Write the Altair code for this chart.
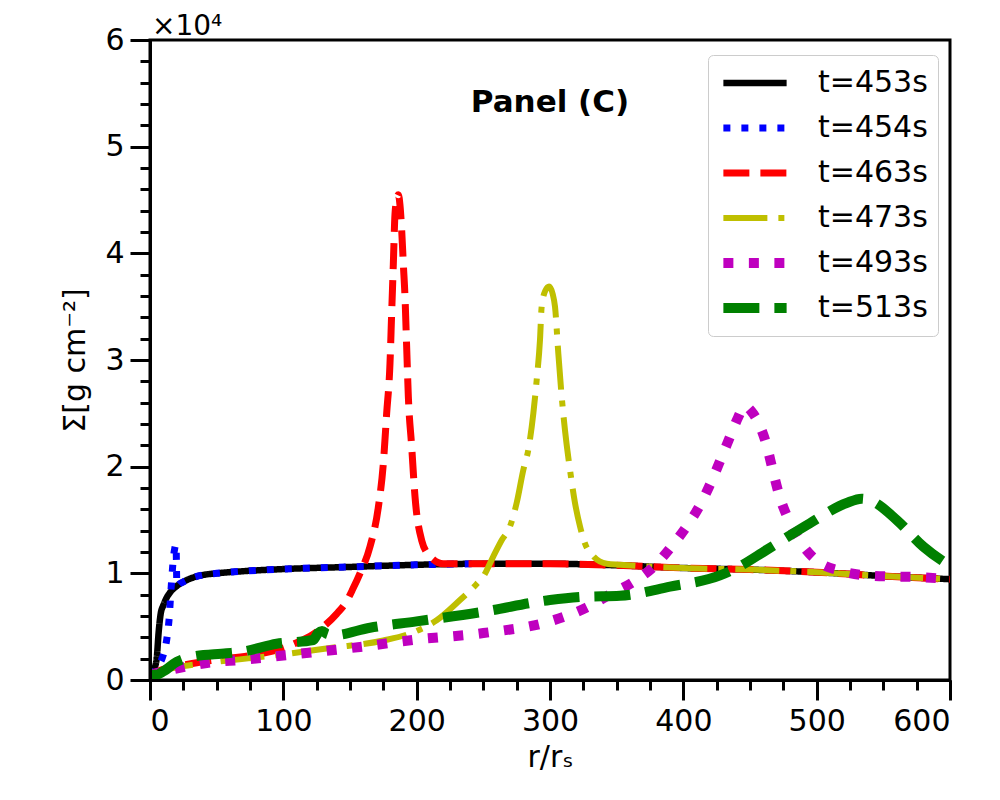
import altair as alt
import pandas as pd

FONT = "DejaVu Sans"

series_names = ["t=453s", "t=454s", "t=463s", "t=473s", "t=493s", "t=513s"]
colors = ["#000000", "#0000ff", "#ff0000", "#bfbf00", "#bf00bf", "#008000"]
dashes = [[1, 0], [7, 11], [26, 11], [44, 11, 6, 11], [10, 15.5], [36, 15]]
widths = [6.5, 7, 7, 6, 10, 10]

# t=453s
r453 = [0, 3, 5, 6.5, 8, 10, 12, 15, 20, 25, 30, 40, 50, 70, 100, 150, 200, 250, 300, 350, 400, 450, 500, 550, 600]
s453 = [0.05, 0.1, 0.2, 0.45, 0.62, 0.70, 0.76, 0.82, 0.88, 0.92, 0.95, 0.985, 1.0, 1.02, 1.04, 1.06, 1.08, 1.09, 1.09, 1.075, 1.05, 1.035, 1.01, 0.975, 0.945]
# t=454s
r454 = [0, 3, 6, 9, 11, 13, 14.5, 15.5, 16.5, 17.5, 18.5, 19.5, 20.2, 22, 25, 30, 40, 50, 70, 100, 150, 200, 250]
s454 = [0.05, 0.08, 0.13, 0.2, 0.28, 0.42, 0.6, 0.8, 0.98, 1.14, 1.23, 1.27, 0.88, 0.9, 0.92, 0.95, 0.985, 1.0, 1.02, 1.04, 1.06, 1.08, 1.09]
# t=463s
r463 = [0, 10, 25, 50, 75, 100, 110, 120, 130, 140, 147.5, 152, 157.5, 165, 171.25, 175, 177.5, 180, 181.25, 182.5, 183.75, 185, 186.25, 187.5, 188.75, 190, 191.25, 192.5, 193.75, 196.25, 198.75, 203.75, 210, 220, 250, 300, 350, 400, 450, 500, 550, 600]
s463 = [0.05, 0.1, 0.14, 0.19, 0.23, 0.3, 0.35, 0.41, 0.5, 0.62, 0.74, 0.85, 1.0, 1.25, 1.62, 2.03, 2.5, 2.97, 3.44, 3.9, 4.37, 4.5, 4.55, 4.45, 4.22, 3.9, 3.59, 3.12, 2.66, 2.19, 1.72, 1.31, 1.16, 1.09, 1.09, 1.09, 1.075, 1.05, 1.035, 1.01, 0.975, 0.945]
# t=473s
r473 = [0, 10, 25, 50, 100, 135, 175, 200, 215, 232.5, 245, 250, 257.5, 263.75, 270, 275, 280, 283.75, 287.5, 290, 292.5, 293.75, 296.5, 299.3, 302, 303.75, 306.25, 308.75, 311.25, 315, 318.75, 322.5, 326.25, 332.5, 342.5, 352.5, 400, 450, 500, 550, 600]
s473 = [0.05, 0.09, 0.13, 0.17, 0.24, 0.3, 0.37, 0.46, 0.56, 0.75, 0.9, 0.97, 1.16, 1.31, 1.44, 1.66, 1.97, 2.16, 2.5, 2.81, 3.19, 3.5, 3.65, 3.69, 3.62, 3.5, 3.06, 2.66, 2.34, 1.97, 1.66, 1.44, 1.28, 1.16, 1.09, 1.08, 1.05, 1.035, 1.01, 0.975, 0.945]
# t=493s
r493 = [0, 10, 25, 42.5, 70, 100, 130, 157.5, 200, 250, 300, 327.5, 346, 362.5, 377.5, 391, 402.5, 412.5, 421, 428.75, 436, 441, 446, 451, 456, 462.5, 467, 472, 479, 488, 501, 519, 537.5, 557, 576, 600]
s493 = [0.05, 0.08, 0.12, 0.16, 0.19, 0.23, 0.27, 0.31, 0.38, 0.44, 0.55, 0.68, 0.81, 0.92, 1.06, 1.25, 1.44, 1.64, 1.86, 2.09, 2.31, 2.46, 2.57, 2.52, 2.42, 2.2, 1.97, 1.73, 1.5, 1.29, 1.11, 1.02, 0.98, 0.97, 0.965, 0.945]
# t=513s
r513 = [0, 5, 10, 20, 32.5, 57.5, 71, 95, 122.5, 126, 129, 133, 137.5, 165, 200, 250, 300, 325, 352.5, 390, 427.5, 440, 462.5, 495, 522.5, 533.75, 542.5, 560, 580, 597.5, 600]
s513 = [0.05, 0.05, 0.08, 0.17, 0.22, 0.25, 0.27, 0.34, 0.375, 0.44, 0.46, 0.43, 0.42, 0.49, 0.55, 0.64, 0.75, 0.78, 0.79, 0.875, 0.98, 1.05, 1.22, 1.47, 1.66, 1.70, 1.67, 1.5, 1.25, 1.09, 1.07]

x_major_ticks = [0, 100, 200, 300, 400, 500, 600]
x_minor_ticks = [i * 25 for i in range(25)]
y_major_ticks = [0, 1, 2, 3, 4, 5, 6]
y_minor_ticks = [round(i * 0.2, 1) for i in range(31)]

all_r = [r453, r454, r463, r473, r493, r513]
all_s = [s453, s454, s463, s473, s493, s513]
rows = []
for name, rr, ss in zip(series_names, all_r, all_s):
    for a, b in zip(rr, ss):
        rows.append({"series": name, "r": a, "S": b})
df = pd.DataFrame(rows)

xscale = alt.Scale(domain=[0, 600], nice=False, zero=False)
yscale = alt.Scale(domain=[0, 6], nice=False, zero=False)

x_axis = alt.Axis(values=x_major_ticks, format="d", tickSize=20, labelPadding=6,
                  title="r/rₛ", titlePadding=6, zindex=1)
y_axis = alt.Axis(values=y_major_ticks, format="d", tickSize=20, labelPadding=6,
                  title="Σ[g cm⁻²]", titlePadding=14, zindex=1)

color = alt.Color("series:N", scale=alt.Scale(domain=series_names, range=colors), legend=alt.Legend(title=None))
dash = alt.StrokeDash("series:N", scale=alt.Scale(domain=series_names, range=dashes), legend=alt.Legend(title=None))
sw = alt.StrokeWidth("series:N", scale=alt.Scale(type="ordinal", domain=series_names, range=widths), legend=alt.Legend(title=None))

layers = []
for name in series_names:
    layers.append(
        alt.Chart(df).transform_filter(alt.datum.series == name).mark_line(
            interpolate="monotone", clip=True, strokeCap="butt", strokeJoin="round"
        ).encode(
            x=alt.X("r:Q", scale=xscale, axis=x_axis),
            y=alt.Y("S:Q", scale=yscale, axis=y_axis),
            color=color, strokeDash=dash, strokeWidth=sw,
        )
    )

panel_df = pd.DataFrame({"r": [300], "S": [5.41], "label": ["Panel (C)"]})
panel = alt.Chart(panel_df).mark_text(font=FONT, fontSize=31, fontWeight="bold", color="black",
                                      align="center", baseline="middle").encode(
    x=alt.X("r:Q", scale=xscale, axis=x_axis), y=alt.Y("S:Q", scale=yscale, axis=y_axis), text="label:N")

main = alt.layer(*layers, panel)

exp_df = pd.DataFrame({"r": [0], "S": [6], "label": ["×10⁴"]})
minor = alt.Chart(exp_df).mark_text(font=FONT, fontSize=28, color="black", align="left",
                                    baseline="alphabetic", dx=2, dy=-5).encode(
    x=alt.X("r:Q", scale=xscale,
            axis=alt.Axis(values=x_minor_ticks, tickSize=10, labels=False, domain=False,
                          title=None, orient="bottom", zindex=1)),
    y=alt.Y("S:Q", scale=yscale,
            axis=alt.Axis(values=y_minor_ticks, tickSize=10, labels=False, domain=False,
                          title=None, orient="left", zindex=1)),
    text="label:N")

chart = alt.layer(main, minor).resolve_axis(x="independent", y="independent").properties(
    width=800, height=640,
    autosize=alt.AutoSizeParams(type="none"),
    padding={"left": 142, "top": 32, "right": 40, "bottom": 100},
).configure_view(stroke="black", strokeWidth=3).configure_axis(
    labelFont=FONT, titleFont=FONT, labelFontSize=30, titleFontSize=30,
    labelColor="black", titleColor="black", titleFontWeight="normal",
    tickColor="black", tickWidth=3, domainColor="black", domainWidth=3, grid=False,
).configure_legend(
    orient="none", legendX=558, legendY=15, symbolType="stroke", symbolSize=4000,
    labelFont=FONT, labelFontSize=30, labelColor="black", padding=10,
    strokeColor="#cccccc", fillColor="white", cornerRadius=5, rowPadding=9, clipHeight=36,
    labelOffset=26,
)

chart.save("out.html", embed_options={"renderer": "svg", "actions": False})
